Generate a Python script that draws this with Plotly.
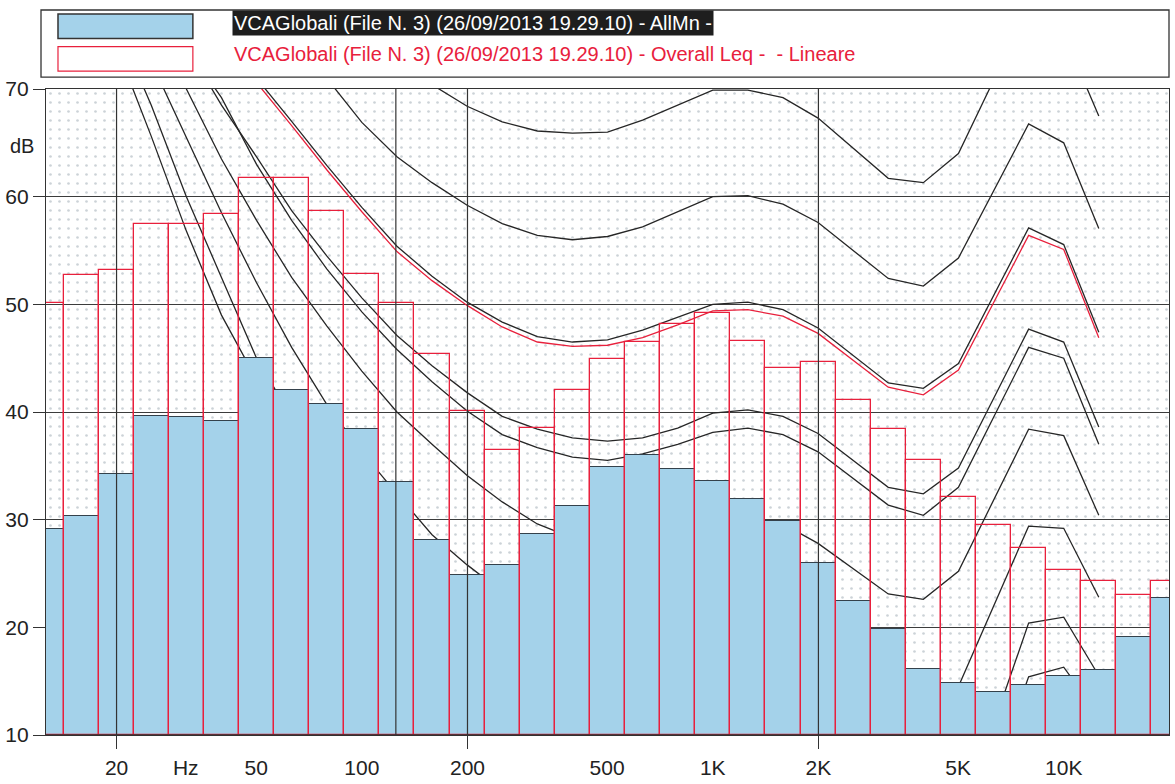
import math
import plotly.graph_objects as go

# ---------------- data ----------------
bands_hz = [12.5, 16, 20, 25, 31.5, 40, 50, 63, 80, 100, 125, 160, 200, 250, 315, 400,
            500, 630, 800, 1000, 1250, 1600, 2000, 2500, 3150, 4000, 5000, 6300, 8000,
            10000, 12500, 16000, 20000]

allmn_db = [29.1, 30.3, 34.2, 39.6, 39.5, 39.2, 45.0, 42.0, 40.7, 38.4, 33.5, 28.1, 24.9,
            25.8, 28.7, 31.3, 34.9, 36.0, 34.7, 33.6, 31.9, 29.9, 26.0, 22.4, 19.8, 16.1,
            14.8, 14.0, 14.6, 15.5, 16.0, 19.1, 22.7]

leq_db = [50.1, 52.7, 53.2, 57.5, 57.5, 58.4, 61.7, 61.7, 58.7, 52.8, 50.1, 45.4, 40.1,
          36.5, 38.5, 42.0, 44.9, 46.5, 48.2, 49.2, 46.6, 44.1, 44.6, 41.1, 38.4, 35.5,
          32.1, 29.5, 27.4, 25.3, 24.3, 23.0, 24.3]

curve_hz = [12.5, 16, 20, 25, 31.5, 40, 50, 63, 80, 100, 125, 160, 200, 250, 315, 400, 500,
            630, 800, 1000, 1250, 1600, 2000, 3150, 4000, 5000, 8000, 10000, 12500]

curve_a = [None] * 9 + [76.5, 73.3, 70.4, 68.4, 66.95, 66.1, 65.9, 66.0, 67.1, 68.5, 69.9,
                        69.9, 69.2, 67.3, 61.7, 61.3, 64.0, 77.6, 75.1, 67.5]
curve_b = [None] * 7 + [74.5, 71.0, 66.9, 63.7, 61.3, 59.2, 57.5, 56.4, 56.0, 56.3, 57.2,
                        58.6, 60.0, 60.1, 59.3, 57.6, 52.4, 51.7, 54.3, 66.75, 65.0, 57.05]
curve_c = [None] * 5 + [75.5, 71.0, 67.0, 62.9, 59.0, 55.4, 52.6, 50.2, 48.35, 47.0, 46.5,
                        46.7, 47.6, 48.8, 50.0, 50.2, 49.5, 47.8, 42.7, 42.2, 44.5, 57.1,
                        55.55, 47.4]
curve_red = [None] * 5 + [75.0, 70.6, 66.6, 62.5, 58.6, 54.9, 52.2, 49.9, 47.9, 46.5, 46.1,
                          46.2, 46.9, 48.1, 49.4, 49.5, 48.9, 47.3, 42.3, 41.6, 43.9, 56.4,
                          55.1, 46.9]
curve_e = [None] * 3 + [79.0, 74.0, 68.5, 63.7, 58.7, 54.5, 50.6, 47.1, 44.3, 41.8, 39.6,
                        38.4, 37.6, 37.3, 37.6, 38.5, 39.9, 40.2, 39.6, 38.0, 33.0, 32.4,
                        34.8, 47.7, 46.5, 38.6]
curve_f = [None] * 3 + [78.5, 73.8, 69.2, 63.0, 57.8, 53.3, 49.3, 45.8, 42.8, 40.1, 37.9,
                        36.7, 35.8, 35.5, 36.1, 37.0, 38.1, 38.5, 37.9, 36.3, 31.35, 30.4,
                        33.0, 46.0, 45.0, 37.0]
curve_g = [None] * 3 + [77.0, 70.0, 63.5, 57.8, 52.5, 48.0, 43.8, 40.0, 37.0, 34.1, 31.65,
                        29.6, 28.3, 27.6, 27.8, 28.6, 29.9, 30.2, 29.6, 27.8, 23.1, 22.6,
                        25.2, 38.4, 37.8, 30.4]
curve_h = [None] * 2 + [80.0, 72.5, 65.5, 58.5, 52.0, 46.0, 40.7, 36.3, 32.4, 28.6, 25.8,
                        23.3, 21.3, 19.8, 18.8, 18.6, 19.0, 20.0, 20.2, 19.5, 17.8, 13.3,
                        12.8, 14.5, 29.4, 29.2, 22.8]
curve_i = [None] + [82.0, 76.0, 68.5, 60.0, 52.5, 45.0, 39.5, 34.5, 30.0, 26.3, 23.0, 20.0,
                    17.5, 15.3, 13.5, 12.5, 12.2, 12.6, 13.5, 13.6, 12.8, 10.8, 5.5, 3.5,
                    1.5, 20.4, 20.95, 15.5]
curve_j = [None] + [80.0, 74.0, 65.6, 56.8, 49.0, 43.0, 37.5, 32.5, 28.0, 24.0, 20.5, 17.5,
                    15.0, 13.0, 11.5, 10.5, 10.2, 10.5, 11.0, 11.0, 10.0, 8.0, 2.0, 0.5,
                    -3.0, 15.4, 16.3, 11.8]

black_curves = [curve_a, curve_b, curve_c, curve_e, curve_f, curve_g, curve_h, curve_i, curve_j]

tick_hz = [20, 31.5, 50, 100, 200, 500, 1000, 2000, 5000, 10000]
tick_text = ["20", "Hz", "50", "100", "200", "500", "1K", "2K", "5K", "10K"]
major_tick_hz = [20, 200, 2000, 20000]
vline_hz = [20, 125, 200, 2000]

legend_blue = "VCAGlobali (File N. 3) (26/09/2013 19.29.10) - AllMn -"
legend_red = "VCAGlobali (File N. 3) (26/09/2013 19.29.10) - Overall Leq -\u00a0 - Lineare"

# ---------------- helpers ----------------
def band_x(f):
    # exact 1/3-octave (base-10) position on a log10 frequency scale
    return round(10 * math.log10(f)) / 10.0

def lx(f):
    return math.log10(f)

X_MIN, X_MAX = band_x(12.5), band_x(20000)
Y_MIN, Y_MAX = 10, 70

W, H = 1175, 784
PL, PR, PT, PB = 46, 1170, 89, 743

def pxx(x):
    return (x - PL) / (PR - PL)

def pxy(y):
    return (PB - y) / (PB - PT)

FONT = "Liberation Sans, Arial, sans-serif"
RED = "#e8203c"
DARK = "#262626"
BLUE = "#a4d2ea"

bx = [band_x(f) for f in bands_hz]
cx = [band_x(f) for f in curve_hz]

fig = go.Figure()

# stippled background of the plot area
fig.add_trace(go.Bar(
    x=[(X_MIN + X_MAX) / 2], y=[Y_MAX - Y_MIN], base=[Y_MIN], width=[X_MAX - X_MIN],
    marker=dict(color="rgba(0,0,0,0)", line=dict(width=0),
                pattern=dict(shape=".", fgcolor="#9aa6b0", bgcolor="rgba(0,0,0,0)",
                             size=9, solidity=0.07)),
    hoverinfo="skip", showlegend=False, xaxis="x", yaxis="y"))

# contour curves (below the bars)
for c in black_curves:
    fig.add_trace(go.Scatter(x=cx, y=c, mode="lines", line=dict(color=DARK, width=1.3),
                             hoverinfo="skip", showlegend=False, xaxis="x", yaxis="y"))
fig.add_trace(go.Scatter(x=cx, y=curve_red, mode="lines", line=dict(color=RED, width=1.3),
                         hoverinfo="skip", showlegend=False, xaxis="x", yaxis="y"))

# bars on an overlaid subplot so they sit above the curves
fig.add_trace(go.Bar(x=bx, y=[v - Y_MIN for v in allmn_db], base=[Y_MIN] * len(bx),
                     width=[0.1] * len(bx),
                     marker=dict(color=BLUE, line=dict(color="#34414b", width=1)),
                     name="AllMn", showlegend=False, xaxis="x2", yaxis="y2"))
fig.add_trace(go.Bar(x=bx, y=[v - Y_MIN for v in leq_db], base=[Y_MIN] * len(bx),
                     width=[0.1] * len(bx),
                     marker=dict(color="rgba(0,0,0,0)", line=dict(color=RED, width=1.3)),
                     name="Overall Leq", showlegend=False, xaxis="x2", yaxis="y2"))

shapes = []
for f in vline_hz:
    shapes.append(dict(type="line", xref="x", yref="paper", x0=lx(f), x1=lx(f), y0=0, y1=1,
                       line=dict(color="#333", width=1.2), layer="above"))
# bottom axis line redrawn above the bars
shapes.append(dict(type="line", xref="paper", yref="paper", x0=0, x1=1, y0=0, y1=0,
                   line=dict(color="#333", width=1.5), layer="above"))
# legend frame and swatches
shapes.append(dict(type="rect", xref="paper", yref="paper", x0=pxx(41), x1=pxx(1170),
                   y0=pxy(77), y1=pxy(9), line=dict(color="#333", width=1.3),
                   fillcolor="rgba(0,0,0,0)"))
shapes.append(dict(type="rect", xref="paper", yref="paper", x0=pxx(58), x1=pxx(193),
                   y0=pxy(38), y1=pxy(13), line=dict(color="#333", width=1.5),
                   fillcolor=BLUE))
shapes.append(dict(type="rect", xref="paper", yref="paper", x0=pxx(58), x1=pxx(193),
                   y0=pxy(71), y1=pxy(46), line=dict(color=RED, width=1.2),
                   fillcolor="white"))

annotations = [
    dict(text=legend_blue, xref="paper", yref="paper", x=pxx(232), y=pxy(22),
         xanchor="left", yanchor="middle", showarrow=False, bgcolor="#1e1e1e",
         borderpad=1, font=dict(family=FONT, size=20, color="white")),
    dict(text=legend_red, xref="paper", yref="paper", x=pxx(232), y=pxy(54),
         xanchor="left", yanchor="middle", showarrow=False,
         font=dict(family=FONT, size=20, color=RED)),
    dict(text="dB", xref="paper", yref="paper", x=pxx(22), y=pxy(147),
         xanchor="center", yanchor="middle", showarrow=False,
         font=dict(family=FONT, size=20, color="#222")),
]

fig.update_layout(
    width=W, height=H, autosize=False,
    margin=dict(l=PL, r=W - PR, t=PT, b=H - PB, pad=0),
    paper_bgcolor="white", plot_bgcolor="white",
    barmode="overlay", bargap=0,
    font=dict(family=FONT, size=20, color="#222"),
    shapes=shapes, annotations=annotations,
    xaxis=dict(range=[X_MIN, X_MAX], tickmode="array",
               tickvals=[lx(f) for f in tick_hz], ticktext=tick_text,
               ticks="outside", ticklen=14, tickcolor="rgba(0,0,0,0)",
               showgrid=False, zeroline=False, showline=True, linecolor="#333",
               linewidth=1.3, mirror=True, tickfont=dict(family=FONT, size=21, color="#222")),
    yaxis=dict(range=[Y_MIN, Y_MAX], tickmode="linear", tick0=10, dtick=10,
               ticks="outside", ticklen=12, tickcolor="#333", tickwidth=1.2,
               showgrid=True, gridcolor="#3c3c3c", gridwidth=1, zeroline=False,
               showline=True, linecolor="#333", linewidth=1.3, mirror=True,
               tickfont=dict(family=FONT, size=21, color="#222")),
    xaxis2=dict(range=[X_MIN, X_MAX], overlaying="x", anchor="y2", side="bottom",
                tickmode="array", tickvals=[lx(f) for f in major_tick_hz],
                ticks="outside", ticklen=13, tickcolor="#333", tickwidth=1.2,
                showticklabels=False, showgrid=False, zeroline=False, showline=False),
    yaxis2=dict(range=[Y_MIN, Y_MAX], overlaying="y", anchor="x2", visible=False,
                showgrid=False, zeroline=False),
)

fig.write_html("out.html")
